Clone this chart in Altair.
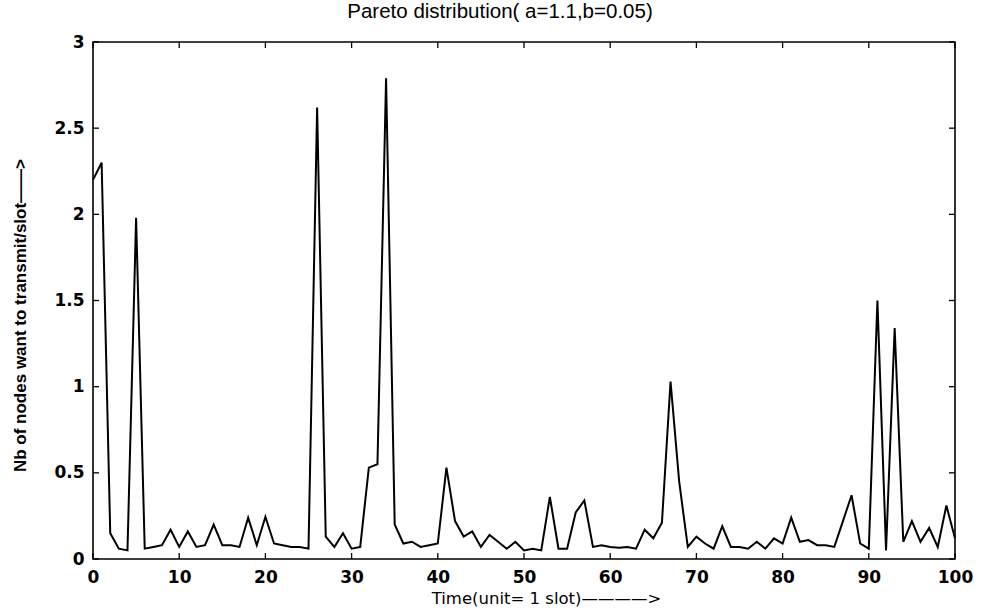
import altair as alt
import pandas as pd

time_slots = list(range(101))
nodes_per_slot = [
    2.2, 2.3, 0.15, 0.06, 0.05, 1.98, 0.06, 0.07, 0.08, 0.17,
    0.07, 0.16, 0.07, 0.08, 0.2, 0.08, 0.08, 0.07, 0.24, 0.08,
    0.245, 0.09, 0.08, 0.07, 0.07, 0.06, 2.62, 0.13, 0.07, 0.15,
    0.06, 0.07, 0.53, 0.55, 2.79, 0.2, 0.09, 0.1, 0.07, 0.08,
    0.09, 0.53, 0.22, 0.13, 0.16, 0.07, 0.14, 0.1, 0.06, 0.1,
    0.05, 0.06, 0.05, 0.36, 0.06, 0.06, 0.27, 0.34, 0.07, 0.08,
    0.07, 0.065, 0.07, 0.06, 0.17, 0.12, 0.21, 1.03, 0.45, 0.07,
    0.13, 0.09, 0.06, 0.19, 0.07, 0.07, 0.06, 0.1, 0.06, 0.12,
    0.09, 0.24, 0.1, 0.11, 0.08, 0.08, 0.07, 0.22, 0.37, 0.09,
    0.06, 1.5, 0.05, 1.34, 0.1, 0.22, 0.1, 0.18, 0.07, 0.31,
    0.12,
]
x_ticks = [0, 10, 20, 30, 40, 50, 60, 70, 80, 90, 100]
y_ticks = [0, 0.5, 1, 1.5, 2, 2.5, 3]
title_text = ["Pareto distribution( a=1.1,b=0.05)"]

W, H = 862, 517
FONT = "Liberation Sans"
TICKFONT = "DejaVu Sans"

df = pd.DataFrame({"t": time_slots, "v": nodes_per_slot})
xt = pd.DataFrame({"t": x_ticks})
yt = pd.DataFrame({"v": y_ticks})
tt = pd.DataFrame({"label": title_text})

xscale = alt.Scale(domain=[0, 100], nice=False, zero=False)
yscale = alt.Scale(domain=[0, 3], nice=False, zero=False)

x_axis = alt.Axis(
    values=x_ticks, title="Time(unit= 1 slot)————>", grid=False,
    tickSize=0, domain=False, labelPadding=10, labelFlush=False,
    labelFont=TICKFONT, labelFontSize=17, labelFontWeight="bold", labelColor="black",
    titleFont=TICKFONT, titleFontSize=16.5, titleFontWeight="normal", titleColor="black",
    titlePadding=5, titleX=453)
y_axis = alt.Axis(
    values=y_ticks, title="Nb of nodes want to transmit/slot——>", grid=False,
    tickSize=0, domain=False, labelPadding=9, labelFlush=False,
    labelExpr="'' + datum.value",
    labelFont=TICKFONT, labelFontSize=17, labelFontWeight="bold", labelColor="black",
    titleFont=FONT, titleFontSize=17, titleFontWeight="bold", titleColor="black",
    titleX=-73, titleY=273, titleBaseline="middle")

line = alt.Chart(df).mark_line(color="black", strokeWidth=2).encode(
    x=alt.X("t:Q", scale=xscale, axis=x_axis),
    y=alt.Y("v:Q", scale=yscale, axis=y_axis),
)

tick_bottom = alt.Chart(xt).mark_rule(color="black", strokeWidth=1.3).encode(
    x=alt.X("t:Q", scale=xscale, axis=x_axis), y=alt.value(H), y2=alt.value(H - 6))
tick_top = alt.Chart(xt).mark_rule(color="black", strokeWidth=1.3).encode(
    x=alt.X("t:Q", scale=xscale, axis=x_axis), y=alt.value(0), y2=alt.value(6))
tick_left = alt.Chart(yt).mark_rule(color="black", strokeWidth=1.3).encode(
    y=alt.Y("v:Q", scale=yscale, axis=y_axis), x=alt.value(0), x2=alt.value(6))
tick_right = alt.Chart(yt).mark_rule(color="black", strokeWidth=1.3).encode(
    y=alt.Y("v:Q", scale=yscale, axis=y_axis), x=alt.value(W), x2=alt.value(W - 6))

title_mark = alt.Chart(tt).mark_text(
    font=FONT, fontSize=20.5, color="black", align="center", baseline="middle"
).encode(x=alt.value(407), y=alt.value(-30), text="label:N")

chart = alt.layer(
    line, tick_bottom, tick_top, tick_left, tick_right, title_mark
).properties(
    width=W, height=H,
    autosize="none",
    padding={"left": 93, "top": 42, "right": 28, "bottom": 52},
    background="white",
).configure_view(stroke="black", strokeWidth=1.6)

chart.save("out.html", embed_options={"renderer": "svg", "actions": False})
